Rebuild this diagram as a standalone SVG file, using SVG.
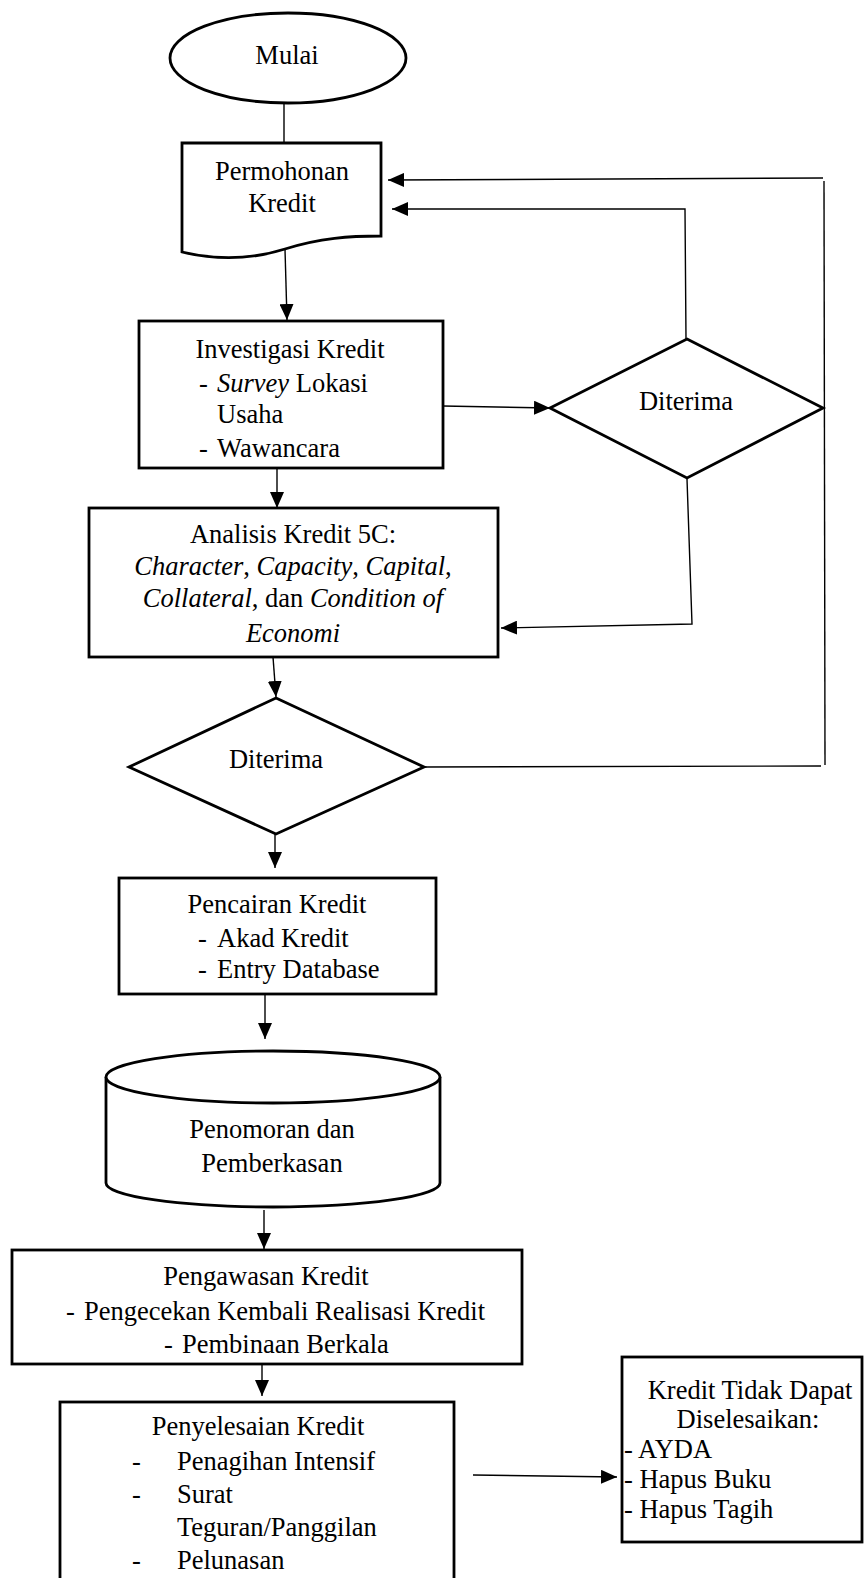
<svg xmlns="http://www.w3.org/2000/svg" width="865" height="1578" viewBox="0 0 865 1578">
<style>
.s{fill:#fff;stroke:#000;stroke-width:2.8}
.c{fill:none;stroke:#000;stroke-width:1.4}
text{font-family:"Liberation Serif","Times New Roman",serif;font-size:26.5px;fill:#000}
.m{text-anchor:middle}
.i{font-style:italic}
</style>
<defs>
<marker id="ah" markerUnits="userSpaceOnUse" markerWidth="16" markerHeight="14" refX="16" refY="7" orient="auto">
<path d="M0,0 L16,7 L0,14 Z" fill="#000"/>
</marker>
</defs>
<rect width="865" height="1578" fill="#fff"/>
<g id="connectors">
<line class="c" x1="284" y1="103" x2="284" y2="143"/>
<line class="c" x1="285" y1="249" x2="287" y2="320" marker-end="url(#ah)"/>
<line class="c" x1="443" y1="406" x2="550" y2="408" marker-end="url(#ah)"/>
<polyline class="c" points="686,339 685,209 392,209" marker-end="url(#ah)"/>
<line class="c" x1="823" y1="178" x2="388" y2="180" marker-end="url(#ah)"/>
<line class="c" x1="824" y1="181" x2="825" y2="765"/>
<line class="c" x1="424" y1="767" x2="821" y2="766"/>
<polyline class="c" points="687,479 692,624 501,628" marker-end="url(#ah)"/>
<line class="c" x1="277" y1="468" x2="277" y2="508" marker-end="url(#ah)"/>
<line class="c" x1="273" y1="657" x2="276" y2="697" marker-end="url(#ah)"/>
<line class="c" x1="275" y1="834" x2="275" y2="868" marker-end="url(#ah)"/>
<line class="c" x1="265" y1="994" x2="265" y2="1039" marker-end="url(#ah)"/>
<line class="c" x1="264" y1="1210" x2="264" y2="1249" marker-end="url(#ah)"/>
<line class="c" x1="262" y1="1364" x2="262" y2="1396" marker-end="url(#ah)"/>
<line class="c" x1="473" y1="1475" x2="617" y2="1477" marker-end="url(#ah)"/>
</g>
<g id="mulai">
<ellipse class="s" cx="288" cy="58" rx="118" ry="45"/>
<text class="m" x="287" y="64">Mulai</text>
</g>
<g id="permohonan">
<path class="s" d="M182,143 L381,143 L381,236 C350,236 320,238 285,249 C250,260 215,260 182,252 Z"/>
<text class="m" x="282" y="180">Permohonan</text>
<text class="m" x="282" y="212">Kredit</text>
</g>
<g id="investigasi">
<rect class="s" x="139" y="321" width="304" height="147"/>
<text class="m" x="290" y="358">Investigasi Kredit</text>
<text x="199" y="392">-</text>
<text x="217" y="392"><tspan class="i">Survey</tspan> Lokasi</text>
<text x="217" y="423">Usaha</text>
<text x="199" y="457">-</text>
<text x="217" y="457">Wawancara</text>
</g>
<g id="diterima1">
<polygon class="s" points="687,339 823,408 687,478 550,408"/>
<text class="m" x="686" y="410">Diterima</text>
</g>
<g id="analisis">
<rect class="s" x="89" y="508" width="409" height="149"/>
<text class="m" x="293" y="543">Analisis Kredit 5C:</text>
<text class="m" x="293" y="575"><tspan class="i">Character</tspan>, <tspan class="i">Capacity</tspan>, <tspan class="i">Capital</tspan>,</text>
<text class="m" x="293" y="607"><tspan class="i">Collateral</tspan>, dan <tspan class="i">Condition of</tspan></text>
<text class="m i" x="293" y="642">Economi</text>
</g>
<g id="diterima2">
<polygon class="s" points="276,698 424,767 276,834 129,767"/>
<text class="m" x="276" y="768">Diterima</text>
</g>
<g id="pencairan">
<rect class="s" x="119" y="878" width="317" height="116"/>
<text class="m" x="277" y="913">Pencairan Kredit</text>
<text x="198" y="947">-</text>
<text x="217" y="947">Akad Kredit</text>
<text x="198" y="978">-</text>
<text x="217" y="978">Entry Database</text>
</g>
<g id="penomoran">
<path class="s" d="M106,1077 L106,1183 A167,24 0 0 0 440,1183 L440,1077"/>
<ellipse class="s" cx="273" cy="1077" rx="167" ry="26"/>
<text class="m" x="272" y="1138">Penomoran dan</text>
<text class="m" x="272" y="1172">Pemberkasan</text>
</g>
<g id="pengawasan">
<rect class="s" x="12" y="1250" width="510" height="114"/>
<text class="m" x="266" y="1285">Pengawasan Kredit</text>
<text x="66" y="1320">-</text>
<text x="84" y="1320">Pengecekan Kembali Realisasi Kredit</text>
<text x="164" y="1353">-</text>
<text x="182" y="1353">Pembinaan Berkala</text>
</g>
<g id="penyelesaian">
<rect class="s" x="60" y="1402" width="394" height="200"/>
<text class="m" x="258" y="1435">Penyelesaian Kredit</text>
<text x="132" y="1470">-</text>
<text x="177" y="1470">Penagihan Intensif</text>
<text x="132" y="1503">-</text>
<text x="177" y="1503">Surat</text>
<text x="177" y="1536">Teguran/Panggilan</text>
<text x="132" y="1569">-</text>
<text x="177" y="1569">Pelunasan</text>
</g>
<g id="tidak-dapat">
<rect class="s" x="622" y="1357" width="240" height="185"/>
<text class="m" x="750" y="1399">Kredit Tidak Dapat</text>
<text class="m" x="748" y="1428">Diselesaikan:</text>
<text x="624" y="1458">- AYDA</text>
<text x="624" y="1488">- Hapus Buku</text>
<text x="624" y="1518">- Hapus Tagih</text>
</g>
</svg>
